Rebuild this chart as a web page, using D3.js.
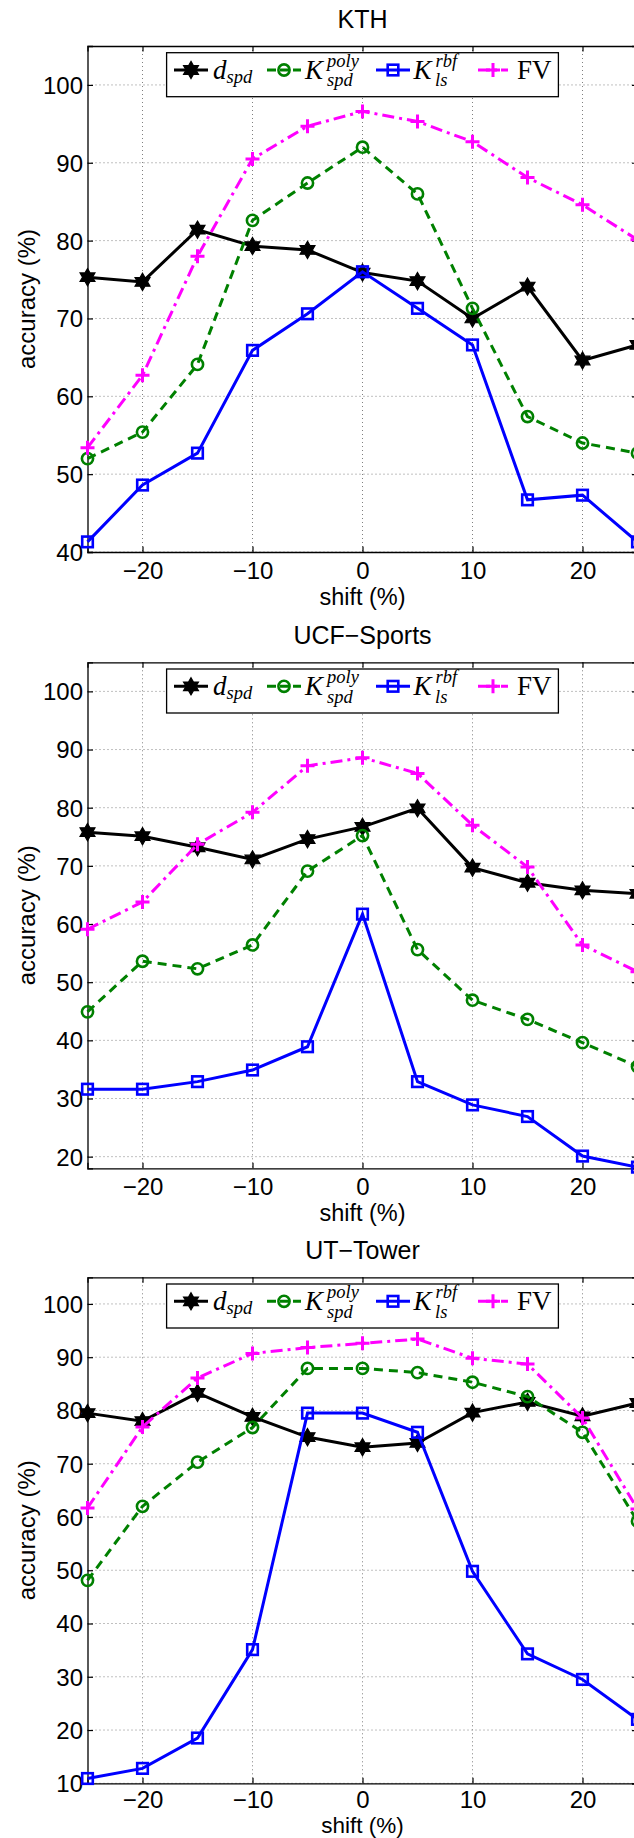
<!DOCTYPE html>
<html>
<head>
<meta charset="utf-8">
<script src="https://cdn.jsdelivr.net/npm/d3@7"></script>
<style>
  html, body { margin: 0; padding: 0; background: #fff; }
  svg { display: block; }
</style>
</head>
<body>
<svg id="chart" width="634" height="1838"></svg>
<script>
// ---------------- DATA ----------------
const shifts = [-25, -20, -15, -10, -5, 0, 5, 10, 15, 20, 25];
const xTicks = [-20, -10, 0, 10, 20];
const titles = ["KTH", "UCF\u2212Sports", "UT\u2212Tower"];
const xLabel = "shift (%)";
const yLabel = "accuracy (%)";

// KTH
const kthDspd = [75.3, 74.7, 81.4, 79.3, 78.8, 75.9, 74.8, 70.0, 74.1, 64.6, 66.6];
const kthKpoly = [52.0, 55.4, 64.1, 82.6, 87.4, 92.0, 86.0, 71.3, 57.4, 54.0, 52.7];
const kthKrbf = [41.3, 48.6, 52.7, 65.9, 70.6, 76.0, 71.3, 66.6, 46.7, 47.3, 41.3];
const kthFV = [53.4, 62.7, 78.0, 90.5, 94.7, 96.6, 95.3, 92.7, 88.1, 84.6, 80.1];
const kthYTicks = [40, 50, 60, 70, 80, 90, 100];
const kthYDomain = [40, 105];

// UCF-Sports
const ucfDspd = [75.8, 75.1, 73.2, 71.1, 74.6, 76.7, 79.9, 69.7, 67.1, 65.8, 65.2];
const ucfKpoly = [44.9, 53.6, 52.3, 56.4, 69.1, 75.2, 55.6, 46.9, 43.6, 39.6, 35.5];
const ucfKrbf = [31.6, 31.6, 32.9, 34.9, 38.9, 61.7, 32.9, 28.9, 26.9, 20.1, 18.2];
const ucfFV = [59.1, 63.8, 73.7, 79.2, 87.2, 88.6, 85.9, 77.0, 69.8, 56.4, 51.8];
const ucfYTicks = [20, 30, 40, 50, 60, 70, 80, 90, 100];
const ucfYDomain = [18, 105];

// UT-Tower
const utDspd = [79.5, 78.0, 83.3, 78.8, 75.0, 73.1, 73.9, 79.6, 81.6, 78.9, 81.4];
const utKpoly = [48.1, 62.0, 70.3, 76.8, 87.9, 87.9, 87.1, 85.3, 82.6, 75.9, 59.2];
const utKrbf = [10.9, 12.8, 18.5, 35.1, 79.5, 79.5, 75.9, 49.8, 34.3, 29.5, 22.0];
const utFV = [61.7, 76.9, 86.1, 90.7, 91.8, 92.6, 93.4, 89.8, 88.7, 78.6, 61.5];
const utYTicks = [10, 20, 30, 40, 50, 60, 70, 80, 90, 100];
const utYDomain = [10, 105];

const seriesColors = ["#000000", "#008000", "#0000ff", "#ff00ff"];
const seriesDash = [null, "9,6", null, "12,5,3,5"];
const seriesMarkers = ["hexagram", "circle", "square", "plus"];

const panels = [
  { title: titles[0], series: [kthDspd, kthKpoly, kthKrbf, kthFV], yTicks: kthYTicks, yDomain: kthYDomain },
  { title: titles[1], series: [ucfDspd, ucfKpoly, ucfKrbf, ucfFV], yTicks: ucfYTicks, yDomain: ucfYDomain },
  { title: titles[2], series: [utDspd, utKpoly, utKrbf, utFV], yTicks: utYTicks, yDomain: utYDomain }
];

// ---------------- LAYOUT ----------------
const svg = d3.select("#chart");
const W = 634, H = 1838;
const plotLeft = 87.5, plotW = 550, plotH = 506;
const panelTops = [46, 662.3, 1277.3];
const fontSans = "'Liberation Sans', Arial, Helvetica, sans-serif";
const fontSerif = "'Liberation Serif', 'Times New Roman', serif";

function hexagramPath(r) {
  const ri = r / Math.sqrt(3);
  const pts = [];
  for (let i = 0; i < 12; i++) {
    const a = -Math.PI / 2 + i * Math.PI / 6;
    const rr = i % 2 === 0 ? r : ri;
    pts.push([rr * Math.cos(a), rr * Math.sin(a)]);
  }
  return "M" + pts.map(p => p[0].toFixed(2) + "," + p[1].toFixed(2)).join("L") + "Z";
}

function drawMarker(g, type, color, cx, cy) {
  if (type === "hexagram") {
    g.append("path").attr("d", hexagramPath(8.6))
      .attr("transform", `translate(${cx},${cy})`)
      .attr("fill", color).attr("stroke", color).attr("stroke-width", 1.2).attr("stroke-linejoin", "miter");
  } else if (type === "circle") {
    g.append("circle").attr("cx", cx).attr("cy", cy).attr("r", 5.6)
      .attr("fill", "none").attr("stroke", color).attr("stroke-width", 2.6);
  } else if (type === "square") {
    g.append("rect").attr("x", cx - 5.3).attr("y", cy - 5.3).attr("width", 10.6).attr("height", 10.6)
      .attr("fill", "none").attr("stroke", color).attr("stroke-width", 2.6);
  } else if (type === "plus") {
    g.append("path").attr("d", `M${cx - 7},${cy}H${cx + 7}M${cx},${cy - 7}V${cy + 7}`)
      .attr("stroke", color).attr("stroke-width", 3).attr("fill", "none");
  }
}

const x = d3.scaleLinear().domain([-25, 25]).range([plotLeft, plotLeft + plotW]);

panels.forEach((p, pi) => {
  const top = panelTops[pi];
  const bottom = top + plotH;
  const y = d3.scaleLinear().domain(p.yDomain).range([bottom, top]);
  const g = svg.append("g");
  const lastPanel = pi === panels.length - 1;

  // grid
  const grid = g.append("g");
  xTicks.forEach(t => {
    grid.append("line").attr("x1", x(t)).attr("x2", x(t)).attr("y1", top).attr("y2", bottom)
      .attr("stroke", "#808080").attr("stroke-width", 1).attr("stroke-dasharray", "1,3");
  });
  p.yTicks.forEach(t => {
    grid.append("line").attr("x1", plotLeft).attr("x2", plotLeft + plotW).attr("y1", y(t)).attr("y2", y(t))
      .attr("stroke", "#808080").attr("stroke-width", 1).attr("stroke-dasharray", "1,3");
  });

  // axes (box with inward ticks)
  const xAxisB = d3.axisBottom(x).tickValues(xTicks).tickSize(-5.5).tickFormat(d => d < 0 ? "\u2212" + Math.abs(d) : d);
  const gxb = g.append("g").attr("transform", `translate(0,${bottom})`).call(xAxisB);
  gxb.selectAll("text").attr("dy", null).attr("y", lastPanel ? 25 : 26.5).attr("font-size", 24).attr("font-family", fontSans).attr("fill", "#000");
  const xAxisT = d3.axisTop(x).tickValues(xTicks).tickSize(-5.5).tickFormat("");
  g.append("g").attr("transform", `translate(0,${top})`).call(xAxisT);
  const yAxisL = d3.axisLeft(y).tickValues(p.yTicks).tickSize(-5.5).tickFormat(d3.format("d"));
  const gyl = g.append("g").attr("transform", `translate(${plotLeft},0)`).call(yAxisL);
  gyl.selectAll("text").attr("x", -4.5).attr("dy", "0.35em").attr("font-size", 24).attr("font-family", fontSans).attr("fill", "#000");
  const yAxisR = d3.axisRight(y).tickValues(p.yTicks).tickSize(-5.5).tickFormat("");
  g.append("g").attr("transform", `translate(${plotLeft + plotW},0)`).call(yAxisR);
  g.selectAll(".domain").attr("stroke", "#000").attr("stroke-width", 1.3);
  g.selectAll(".tick line").attr("stroke", "#000").attr("stroke-width", 1.2);
  g.selectAll(".domain").attr("d", function () { return d3.select(this).attr("d").replace(/V-?5\.5|V5\.5/g, ""); });

  // series
  const line = d3.line().x((d, i) => x(shifts[i])).y(d => y(d));
  p.series.forEach((vals, si) => {
    const sg = g.append("g");
    sg.append("path").datum(vals).attr("d", line)
      .attr("fill", "none").attr("stroke", seriesColors[si]).attr("stroke-width", 3)
      .attr("stroke-linejoin", "miter")
      .attr("stroke-dasharray", seriesDash[si]);
    vals.forEach((v, i) => drawMarker(sg, seriesMarkers[si], seriesColors[si], x(shifts[i]), y(v)));
  });

  // title
  g.append("text").attr("x", x(0)).attr("y", top - 18.5).attr("text-anchor", "middle")
    .attr("font-family", fontSans).attr("font-size", 25).text(p.title);
  // x label
  g.append("text").attr("x", x(0)).attr("y", Math.min(bottom + 52.5, H - 5.5)).attr("text-anchor", "middle")
    .attr("font-family", fontSans).attr("font-size", lastPanel ? 22.5 : 23.5).text(xLabel);
  // y label
  g.append("text").attr("transform", `translate(27,${(top + bottom) / 2}) rotate(-90)`)
    .attr("text-anchor", "middle").attr("dy", "0.35em")
    .attr("font-family", fontSans).attr("font-size", 24).text(yLabel);

  // legend
  const lg = g.append("g");
  const lTop = top + 6.7;
  lg.append("rect").attr("x", 166.6).attr("y", lTop).attr("width", 391.8).attr("height", 44)
    .attr("fill", "#fff").attr("stroke", "#000").attr("stroke-width", 1.3);
  const ly = lTop + 17.3;
  const base = lTop + 26;
  const items = [
    { x1: 174, x2: 208, mx: 191 },
    { x1: 267, x2: 301, mx: 284 },
    { x1: 376, x2: 410, mx: 393 },
    { x1: 478, x2: 508, mx: 493 }
  ];
  items.forEach((it, si) => {
    lg.append("line").attr("x1", it.x1).attr("x2", it.x2).attr("y1", ly).attr("y2", ly)
      .attr("stroke", seriesColors[si]).attr("stroke-width", 3).attr("stroke-dasharray", seriesDash[si] ? (si === 1 ? "9,4" : "12,4,3,4") : null);
    drawMarker(lg, seriesMarkers[si], seriesColors[si], it.mx, ly);
  });
  const t = (xx, yy, str, size, italic) => lg.append("text").attr("x", xx).attr("y", yy)
    .attr("font-family", fontSerif).attr("font-size", size)
    .attr("font-style", italic ? "italic" : "normal").text(str);
  t(213, base, "d", 27, true);
  t(226.5, base + 4, "spd", 18.5, true);
  t(305, base, "K", 27, true);
  t(327, base - 12, "poly", 18.5, true);
  t(327, base + 7.5, "spd", 18.5, true);
  t(413.5, base, "K", 27, true);
  t(435.5, base - 12, "rbf", 18.5, true);
  t(435, base + 7.5, "ls", 18.5, true);
  t(517, base, "FV", 27, false);
});
</script>
</body>
</html>
